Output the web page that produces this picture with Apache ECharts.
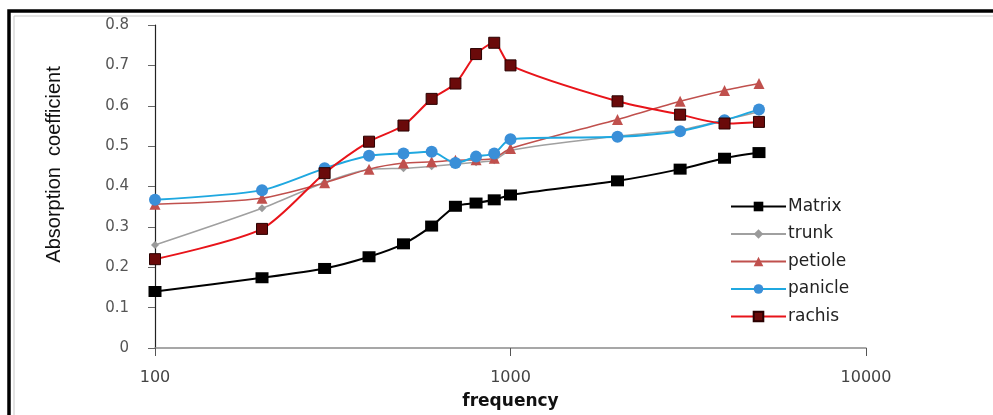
<!DOCTYPE html>
<html>
<head>
<meta charset="utf-8">
<script src="https://cdn.jsdelivr.net/npm/echarts@6/dist/echarts.min.js"></script>
<style>html,body{margin:0;padding:0;background:#fff;}#c{width:993px;height:415px;}</style>
</head>
<body>
<div id="c"></div>
<script>
var frequencies = [100, 200, 300, 400, 500, 600, 700, 800, 900, 1000, 2000, 3000, 4000, 5000];
var matrix  = [0.140, 0.174, 0.197, 0.226, 0.258, 0.302, 0.351, 0.359, 0.367, 0.379, 0.414, 0.443, 0.470, 0.484];
var trunk   = [0.255, 0.346, 0.410, 0.442, 0.445, 0.450, 0.455, 0.460, 0.465, 0.490, 0.525, 0.540, 0.565, 0.585];
var petiole = [0.356, 0.371, 0.409, 0.443, 0.458, 0.461, 0.465, 0.466, 0.470, 0.494, 0.566, 0.611, 0.638, 0.655];
var panicle = [0.367, 0.391, 0.445, 0.476, 0.482, 0.486, 0.458, 0.474, 0.482, 0.517, 0.523, 0.537, 0.564, 0.591];
var rachis  = [0.220, 0.295, 0.433, 0.511, 0.551, 0.617, 0.655, 0.728, 0.756, 0.700, 0.611, 0.578, 0.556, 0.560];
var yTicks = ['0', '0.1', '0.2', '0.3', '0.4', '0.5', '0.6', '0.7', '0.8'];
var xTicks = ['100', '1000', '10000'];

function pairs(vals) { return frequencies.map(function (f, i) { return [f, vals[i]]; }); }

var chart = echarts.init(document.getElementById('c'), null, {renderer: 'canvas'});
var axisFont = 'DejaVu Sans, sans-serif';
chart.setOption({
  animation: false,
  backgroundColor: '#fff',
  graphic: [
    {type: 'rect', shape: {x: 9, y: 11, width: 1200, height: 600}, style: {fill: 'none', stroke: '#000', lineWidth: 3.5}, z: 100},
    {type: 'rect', shape: {x: 14, y: 16, width: 1200, height: 600}, style: {fill: 'none', stroke: '#c8c8c8', lineWidth: 1}, z: 100}
  ],
  grid: {left: 155, right: 127, top: 25, bottom: 65, containLabel: false},
  legend: {
    orient: 'vertical', left: 725, top: 193,
    itemWidth: 55, itemHeight: 12, itemGap: 10.5,
    textStyle: {fontFamily: axisFont, fontSize: 17, color: '#222', lineHeight: 17, padding: [0, 0, 0, -3]},
    data: ['Matrix', 'trunk', 'petiole', 'panicle', 'rachis']
  },
  xAxis: {
    type: 'log', logBase: 10, min: 100, max: 10000,
    name: 'frequency', nameLocation: 'middle', nameGap: 45,
    nameTextStyle: {fontFamily: axisFont, fontSize: 17, fontWeight: 'bold', color: '#111'},
    axisLine: {lineStyle: {color: '#8a8a8a', width: 1.5}},
    axisTick: {show: true, length: 8, inside: false, lineStyle: {color: '#555'}},
    minorTick: {show: false},
    splitLine: {show: false},
    axisLabel: {fontFamily: axisFont, fontSize: 16, color: '#444', margin: 22,
      formatter: function (v) { var i = Math.round(Math.log10(v)) - 2; return xTicks[i] !== undefined ? xTicks[i] : ''; }}
  },
  yAxis: {
    type: 'value', min: 0, max: 0.8, interval: 0.1,
    name: 'Absorption  coefficient', nameLocation: 'middle', nameGap: 91, nameRotate: 90,
    nameTextStyle: {fontFamily: 'Liberation Sans Narrow, Liberation Sans, sans-serif', fontSize: 20, color: '#111', padding: [0, 0, 0, 44]},
    axisLine: {show: true, lineStyle: {color: '#222', width: 1.2}},
    axisTick: {show: true, length: 7, lineStyle: {color: '#666'}},
    splitLine: {show: false},
    axisLabel: {fontFamily: axisFont, fontSize: 15, color: '#555', margin: 26,
      formatter: function (v) { return yTicks[Math.round(v * 10)]; }}
  },
  series: [
    {name: 'Matrix', type: 'line', data: pairs(matrix), smooth: 0.25,
      symbol: 'rect', symbolSize: [13, 11],
      lineStyle: {color: '#000', width: 2}, itemStyle: {color: '#000'}, z: 3},
    {name: 'trunk', type: 'line', data: pairs(trunk), smooth: 0.25,
      symbol: 'diamond', symbolSize: 8,
      lineStyle: {color: '#a0a0a0', width: 1.5}, itemStyle: {color: '#9a9a9a'}, z: 2},
    {name: 'petiole', type: 'line', data: pairs(petiole), smooth: 0.25,
      symbol: 'triangle', symbolSize: 11,
      lineStyle: {color: '#c0504d', width: 1.5}, itemStyle: {color: '#c0504d'}, z: 3},
    {name: 'panicle', type: 'line', data: pairs(panicle), smooth: 0.25,
      symbol: 'circle', symbolSize: 12,
      lineStyle: {color: '#1fa8e0', width: 2}, itemStyle: {color: '#3a8fd8'}, z: 4},
    {name: 'rachis', type: 'line', data: pairs(rachis), smooth: 0.25,
      symbol: 'rect', symbolSize: 11,
      lineStyle: {color: '#e8141a', width: 2}, itemStyle: {color: '#6a0a0a', borderColor: '#2a0000', borderWidth: 1}, z: 5}
  ]
});
</script>
</body>
</html>
